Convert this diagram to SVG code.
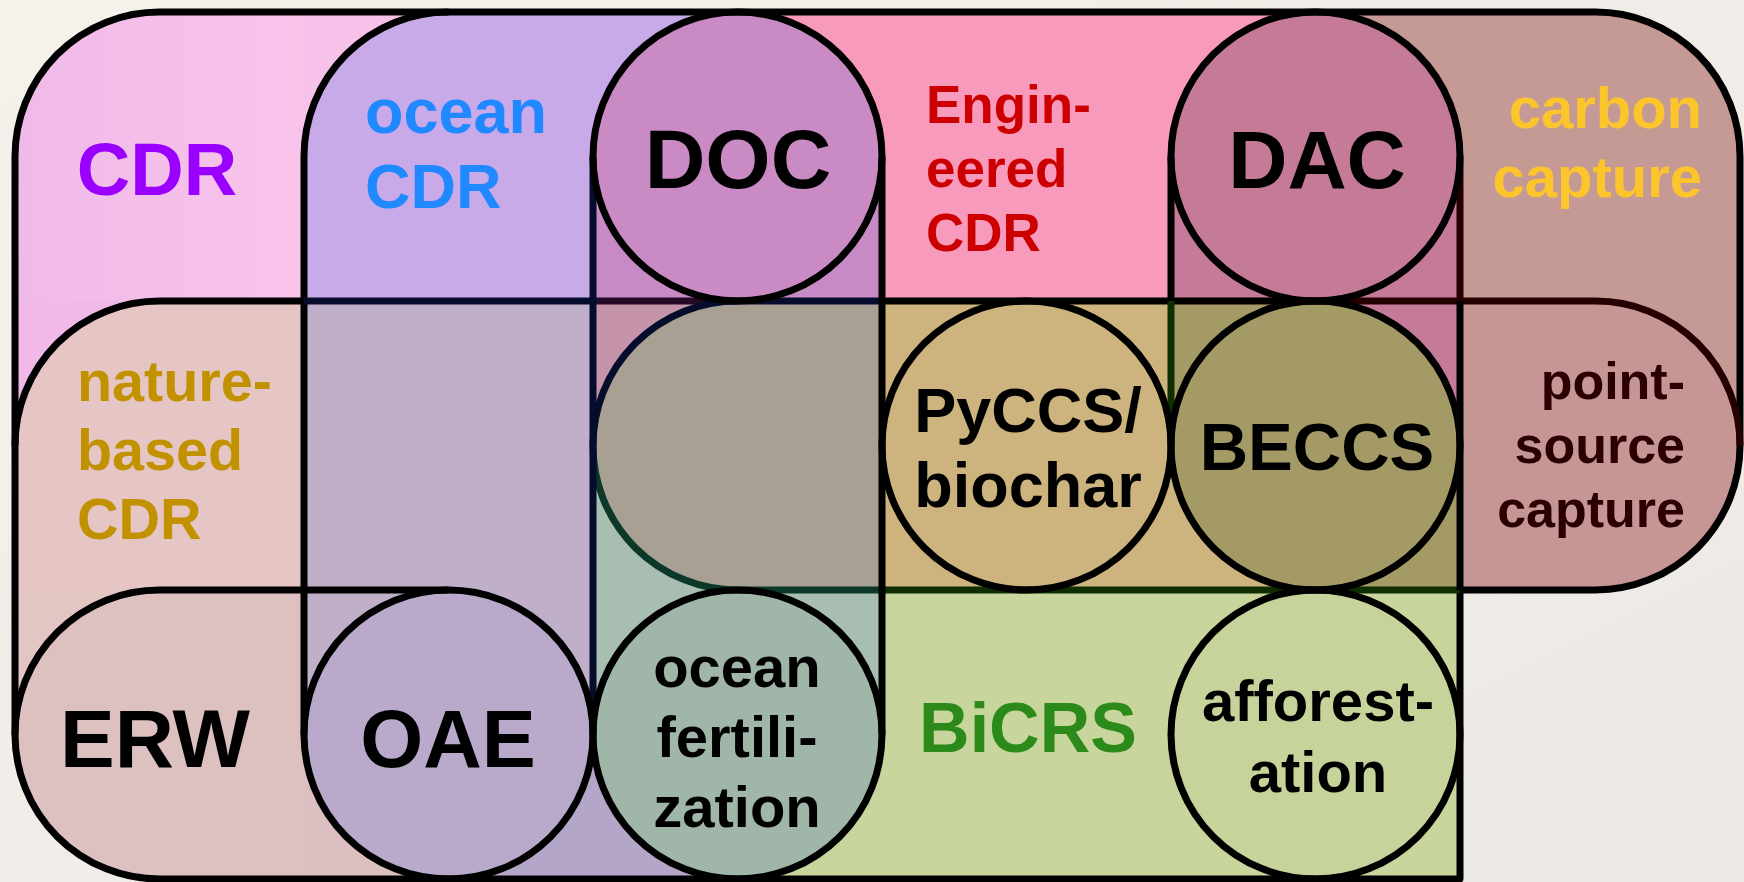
<svg xmlns="http://www.w3.org/2000/svg" width="1744" height="882" viewBox="0 0 1744 882">
  <defs>
    <linearGradient id="bg" x1="0" y1="0" x2="1" y2="1">
      <stop offset="0" stop-color="#f6f1ea"/>
      <stop offset="1" stop-color="#ece8e5"/>
    </linearGradient>
    <linearGradient id="cdrPink" x1="0" y1="0" x2="1" y2="0">
      <stop offset="0" stop-color="#efbae9"/>
      <stop offset="1" stop-color="#f8c4ea"/>
    </linearGradient>
  </defs>
  <style>
    text { font-family: "Liberation Sans", Arial, Helvetica, sans-serif; font-weight: bold; }
    .mid { text-anchor: middle; }
    .end { text-anchor: end; }
    .ln { fill: none; stroke-width: 7; stroke-linejoin: round; }
    .k { stroke: #000000; }
    .navy { stroke: #050c2c; }
    .plum { stroke: #240a26; }
    .teal { stroke: #0c382a; }
    .leaf { stroke: #0f2e00; }
    .maroon { stroke: #260000; }
    .ring { fill: none; stroke: #000000; stroke-width: 7; }
  </style>

  <!-- backdrop -->
  <rect x="0" y="0" width="1744" height="882" fill="url(#bg)"/>

  <!-- flat fills of every overlap region, row by row -->
  <g id="region-fills">
    <!-- row 0 -->
    <path d="M159.5,12 H304 V301 H15 V156.5 A144.5,144.5 0 0 1 159.5,12 Z" fill="url(#cdrPink)"/>
    <rect x="304" y="12" width="144.5" height="144.5" fill="#f6c2ea"/>
    <path d="M448.5,12 H593 V301 H304 V156.5 A144.5,144.5 0 0 1 448.5,12 Z" fill="#c9aae8"/>
    <rect x="593" y="12" width="144.5" height="144.5" fill="#c9aae8"/>
    <rect x="737.5" y="12" width="144.5" height="144.5" fill="#f89abb"/>
    <rect x="593" y="156.5" width="289" height="144.5" fill="#c78ac5"/>
    <circle cx="737.5" cy="156.5" r="144.5" fill="#ca8bc4"/>
    <rect x="882" y="12" width="289" height="289" fill="#f89abb"/>
    <rect x="1171" y="12" width="144.5" height="144.5" fill="#f89abb"/>
    <rect x="1315.5" y="12" width="144.5" height="144.5" fill="#c69a94"/>
    <rect x="1171" y="156.5" width="289" height="144.5" fill="#c47a98"/>
    <circle cx="1315.5" cy="156.5" r="144.5" fill="#c57a98"/>
    <path d="M1460,12 H1595.5 A144.5,144.5 0 0 1 1740,156.5 V301 H1460 Z" fill="#c69a94"/>

    <!-- row 1 -->
    <rect x="15" y="301" width="144.5" height="144.5" fill="#f0b9e8"/>
    <path d="M159.5,301 H304 V590 H15 V445.5 A144.5,144.5 0 0 1 159.5,301 Z" fill="#e5c6c4"/>
    <rect x="304" y="301" width="289" height="289" fill="#bfafc9"/>
    <rect x="593" y="301" width="144.5" height="144.5" fill="#c594ab"/>
    <rect x="593" y="445.5" width="144.5" height="144.5" fill="#a7beb0"/>
    <path d="M737.5,301 H882 V590 H737.5 A144.5,144.5 0 0 1 593,445.5 A144.5,144.5 0 0 1 737.5,301 Z" fill="#a8a093"/>
    <rect x="882" y="301" width="289" height="289" fill="#cdb47e"/>
    <rect x="1315.5" y="301" width="144.5" height="144.5" fill="#c47a98"/>
    <rect x="1171" y="445.5" width="144.5" height="144.5" fill="#cdb47e"/>
    <path d="M1171,301 H1315.5 A144.5,144.5 0 0 1 1460,445.5 V590 H1315.5 A144.5,144.5 0 0 1 1171,445.5 Z" fill="#a49a66"/>
    <rect x="1595.5" y="301" width="144.5" height="144.5" fill="#c69a94"/>
    <path d="M1460,301 H1595.5 A144.5,144.5 0 0 1 1740,445.5 A144.5,144.5 0 0 1 1595.5,590 H1460 Z" fill="#c69694"/>

    <!-- row 2 -->
    <rect x="15" y="590" width="144.5" height="144.5" fill="#e3c5c3"/>
    <path d="M159.5,590 H304 V879 H159.5 A144.5,144.5 0 0 1 15,734.5 A144.5,144.5 0 0 1 159.5,590 Z" fill="#ddc0c0"/>
    <rect x="304" y="590" width="289" height="144.5" fill="#bfafc9"/>
    <rect x="304" y="734.5" width="144.5" height="144.5" fill="#dbbfc1"/>
    <rect x="448.5" y="734.5" width="144.5" height="144.5" fill="#b4a6c8"/>
    <circle cx="448.5" cy="734.5" r="144.5" fill="#b9aacb"/>
    <rect x="593" y="590" width="289" height="144.5" fill="#a7beb0"/>
    <rect x="593" y="734.5" width="144.5" height="144.5" fill="#b4a6c8"/>
    <rect x="737.5" y="734.5" width="144.5" height="144.5" fill="#c8d59c"/>
    <circle cx="737.5" cy="734.5" r="144.5" fill="#a0b6a8"/>
    <rect x="882" y="590" width="578" height="289" fill="#c8d59c"/>
    <circle cx="1315.5" cy="734.5" r="144.5" fill="#c6d39a"/>
  </g>

  <!-- set boundaries -->
  <g id="set-outlines">
    <!-- outer hull: CDR, carbon capture, point-source capture, BiCRS -->
    <path class="ln k" d="M159.5,12 H1595.5 A144.5,144.5 0 0 1 1740,156.5 V445.5 A144.5,144.5 0 0 1 1595.5,590 H1460 V879 H159.5 A144.5,144.5 0 0 1 15,734.5 V156.5 A144.5,144.5 0 0 1 159.5,12 Z"/>
    <!-- ocean CDR left side -->
    <path class="ln k" d="M304,734.5 V156.5 A144.5,144.5 0 0 1 448.5,12"/>
    <!-- nature-based CDR top -->
    <path class="ln k" d="M15,445.5 A144.5,144.5 0 0 1 159.5,301 H304"/>
    <path class="ln navy" d="M304,301 H593"/>
    <path class="ln plum" d="M593,301 H737.5"/>
    <path class="ln navy" d="M737.5,301 H882"/>
    <path class="ln k" d="M882,301 H1315.5"/>
    <path class="ln maroon" d="M1315.5,301 H1595.5 A144.5,144.5 0 0 1 1740,445.5"/>
    <!-- ERW / OAE band top -->
    <path class="ln k" d="M15,734.5 A144.5,144.5 0 0 1 159.5,590 H448.5"/>
    <!-- biomass band top -->
    <path class="ln teal" d="M737.5,590 H882"/>
    <path class="ln leaf" d="M882,590 H1460"/>
    <path class="ln navy" d="M593,445.5 A144.5,144.5 0 0 1 737.5,301"/>
    <path class="ln teal" d="M737.5,590 A144.5,144.5 0 0 1 593,445.5"/>
    <!-- column edges -->
    <path class="ln navy" d="M593,156.5 V734.5"/>
    <path class="ln k" d="M882,156.5 V734.5"/>
    <path class="ln k" d="M1171,156.5 V301"/>
    <path class="ln leaf" d="M1171,301 V445.5"/>
    <path class="ln maroon" d="M1460,156.5 V301"/>
    <path class="ln k" d="M1460,301 V590"/>
  </g>

  <!-- labelled sets -->
  <g id="node-cdr">
    <text x="157" y="195" class="mid" font-size="74" fill="#9900ff">CDR</text>
  </g>
  <g id="node-ocean-cdr">
    <text x="365" y="133" font-size="63" fill="#2189ff"><tspan x="365" y="133">ocean</tspan><tspan x="365" y="208">CDR</tspan></text>
  </g>
  <g id="node-engineered-cdr">
    <text font-size="53" fill="#cc0000"><tspan x="926" y="123">Engin-</tspan><tspan x="926" y="187">eered</tspan><tspan x="926" y="251">CDR</tspan></text>
  </g>
  <g id="node-carbon-capture">
    <text class="end" font-size="58" fill="#fdc52c"><tspan x="1702" y="128">carbon</tspan><tspan x="1702" y="197">capture</tspan></text>
  </g>
  <g id="node-nature-based-cdr">
    <text font-size="57.5" fill="#c29100"><tspan x="77" y="401">nature-</tspan><tspan x="77" y="470">based</tspan><tspan x="77" y="539">CDR</tspan></text>
  </g>
  <g id="node-point-source-capture">
    <text class="end" font-size="52" fill="#2b0000"><tspan x="1685" y="399">point-</tspan><tspan x="1685" y="463">source</tspan><tspan x="1685" y="527">capture</tspan></text>
  </g>
  <g id="node-bicrs">
    <text x="1028" y="752" class="mid" font-size="70" fill="#2b8a19">BiCRS</text>
  </g>

  <!-- individual pathways -->
  <g id="node-doc">
    <circle class="ring" cx="737.5" cy="156.5" r="144.5"/>
    <text x="738" y="188" class="mid" font-size="84" fill="#000">DOC</text>
  </g>
  <g id="node-dac">
    <circle class="ring" cx="1315.5" cy="156.5" r="144.5"/>
    <text x="1317" y="188" class="mid" font-size="82" fill="#000">DAC</text>
  </g>
  <g id="node-pyccs">
    <circle class="ring" cx="1026.5" cy="445.5" r="144.5"/>
    <text class="mid" font-size="63" fill="#000"><tspan x="1028" y="432">PyCCS/</tspan><tspan x="1028" y="507">biochar</tspan></text>
  </g>
  <g id="node-beccs">
    <circle class="ring" cx="1315.5" cy="445.5" r="144.5"/>
    <text x="1317" y="470" class="mid" font-size="67" fill="#000">BECCS</text>
  </g>
  <g id="node-erw">
    <text x="155" y="767" class="mid" font-size="82" fill="#000">ERW</text>
  </g>
  <g id="node-oae">
    <circle class="ring" cx="448.5" cy="734.5" r="144.5"/>
    <text x="448" y="767" class="mid" font-size="81" fill="#000">OAE</text>
  </g>
  <g id="node-ocean-fertilization">
    <circle class="ring" cx="737.5" cy="734.5" r="144.5"/>
    <text class="mid" font-size="58" fill="#000"><tspan x="737" y="687">ocean</tspan><tspan x="737" y="757">fertili-</tspan><tspan x="737" y="827">zation</tspan></text>
  </g>
  <g id="node-afforestation">
    <circle class="ring" cx="1315.5" cy="734.5" r="144.5"/>
    <text class="mid" font-size="58" fill="#000"><tspan x="1318" y="721">afforest-</tspan><tspan x="1318" y="792">ation</tspan></text>
  </g>
</svg>
